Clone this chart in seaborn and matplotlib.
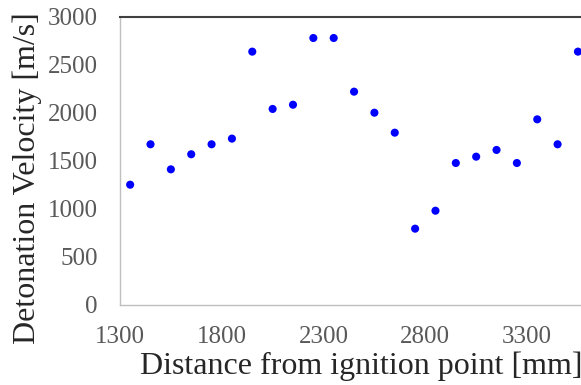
import seaborn as sns
import matplotlib
matplotlib.use('Agg')
import matplotlib.pyplot as plt
import pandas as pd

distance = [1350, 1450, 1550, 1650, 1750, 1850, 1950, 2050, 2150, 2250, 2350, 2450,
            2550, 2650, 2750, 2850, 2950, 3050, 3150, 3250, 3350, 3450, 3550]
velocity = [1253, 1674, 1413, 1570, 1674, 1733, 2639, 2042, 2086, 2781, 2781, 2222,
            2003, 1795, 795, 982, 1479, 1545, 1615, 1479, 1934, 1674, 2639]
x_ticks = [1300, 1800, 2300, 2800, 3300]
y_ticks = [0, 500, 1000, 1500, 2000, 2500, 3000]

df = pd.DataFrame({'distance': distance, 'velocity': velocity})

sns.set_style('white')
plt.rcParams['font.family'] = ['Liberation Serif', 'DejaVu Serif']

fig = plt.figure(figsize=(5.81, 3.85), dpi=100)
ax = fig.add_axes([0.2065, 0.2078, 0.7935, 0.7481])

sns.scatterplot(x='distance', y='velocity', data=df, ax=ax, color='#0000FF',
                s=34, edgecolor='none', linewidth=0)

ax.set_xlim(1300, 3565)
ax.set_ylim(0, 3000)
ax.set_xticks(x_ticks)
ax.set_yticks(y_ticks)
ax.tick_params(axis='both', length=0, labelsize=18, labelcolor='#595959')
ax.tick_params(axis='y', pad=16)
ax.tick_params(axis='x', pad=15)

ax.set_xlabel('Distance from ignition point [mm]', fontsize=23)
ax.set_ylabel('Detonation Velocity [m/s]', fontsize=23)
ax.xaxis.set_label_coords(0.523, -0.16)
ax.yaxis.set_label_coords(-0.169, 0.441)

for side in ['left', 'bottom']:
    ax.spines[side].set_color('#BFBFBF')
    ax.spines[side].set_linewidth(1)
ax.spines['top'].set_color('#404040')
ax.spines['top'].set_linewidth(1.5)
ax.spines['right'].set_visible(False)

fig.savefig('out.png', dpi=100)
